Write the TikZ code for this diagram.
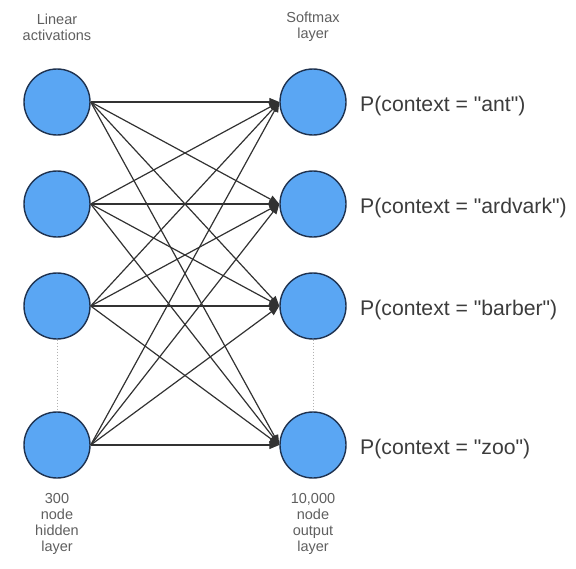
\documentclass[tikz,border=0pt]{standalone}
\usepackage{fontspec}
\setmainfont{Liberation Sans}
% same face without TeX input mapping, so " stays a straight quote
\newfontfamily\probfont{Liberation Sans}
\usetikzlibrary{arrows.meta}
\definecolor{unitblue}{RGB}{90,166,243}
\definecolor{unitedge}{RGB}{30,50,80}
\definecolor{wire}{RGB}{50,50,50}
\definecolor{captiongray}{RGB}{95,95,95}
\definecolor{probgray}{RGB}{60,60,60}
\begin{document}
\begin{tikzpicture}[x=1pt,y=-1pt,
  unit/.style={circle,draw=unitedge,line width=1.4pt,fill=unitblue,minimum size=66pt,inner sep=0pt},
  weight/.style={draw=wire,line width=1.2pt,-{Triangle[length=10pt,width=8pt]}},
  caption/.style={text=captiongray,align=center,font=\fontsize{14.5}{16.2}\selectfont},
  prob/.style={text=probgray,anchor=west,inner sep=0pt,font=\probfont\fontsize{21.2}{25}\selectfont},
  gap/.style={draw=gray!60,line width=1pt,dotted}]
\useasboundingbox (0,0) rectangle (576,568);

% hidden layer units
\node[unit] (h1) at (57,102) {};
\node[unit] (h2) at (57,204) {};
\node[unit] (h3) at (57,306) {};
\node[unit] (h4) at (57,445) {};

% output layer units
\node[unit] (o1) at (313,102) {};
\node[unit] (o2) at (313,204) {};
\node[unit] (o3) at (313,306) {};
\node[unit] (o4) at (313,445) {};

% elided units
\draw[gap] (h3.south) -- (h4.north);
\draw[gap] (o3.south) -- (o4.north);

% fully connected weights
\foreach \i in {1,...,4}{
  \foreach \j in {1,...,4}{
    \draw[weight] (h\i.east) -- (o\j.west);
  }
}

% layer captions
\node[caption] (tl) at (57,27) {Linear\\activations};
\node[caption] (tr) at (313,27) {Softmax\\layer};
\node[caption] (bl) at (57,524) {300\\node\\hidden\\layer};
\node[caption] (br) at (313,524) {10,000\\node\\output\\layer};

% output probabilities
\node[prob] (p1) at (360,106) {P(context = "ant")};
\node[prob] (p2) at (360,208) {P(context = "ardvark")};
\node[prob] (p3) at (360,310) {P(context = "barber")};
\node[prob] (p4) at (360,449) {P(context = "zoo")};
\end{tikzpicture}
\end{document}
